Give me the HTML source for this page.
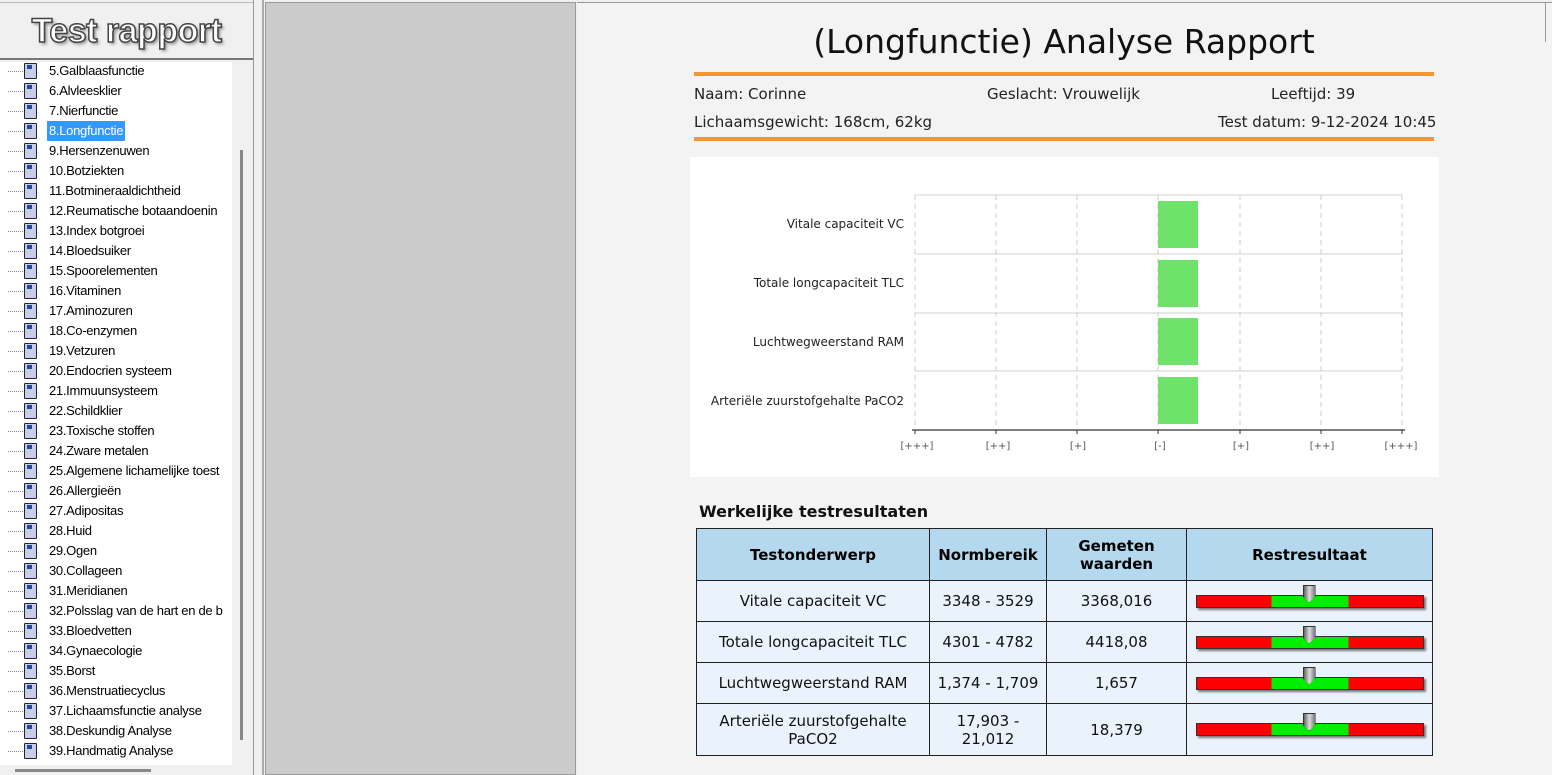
<!DOCTYPE html>
<html><head><meta charset="utf-8"><style>
*{margin:0;padding:0;box-sizing:border-box}
body{width:1552px;height:775px;overflow:hidden;background:#f0f0f0;font-family:"Liberation Sans",sans-serif;position:relative}
.abs{position:absolute}
.tree div{position:absolute;left:0;height:20px;width:232px;font-size:13px;line-height:20px;color:#000}
.tree .dot{position:absolute;left:8px;top:10px;width:15px;border-top:1px dotted #888}
.tree .ic{position:absolute;left:24px;top:2px;width:13px;height:16px;background:#c8cde8;border:1px solid #223;border-radius:1px}
.tree .ic:after{content:"";position:absolute;left:2px;top:1px;width:5px;height:4px;background:#1e4a9a}
.tree .t{position:absolute;left:47px;top:0;padding:0 2px;letter-spacing:-0.3px;white-space:nowrap}
.sans{font-family:"DejaVu Sans","Liberation Sans",sans-serif}
table{border-collapse:collapse;font-size:15px}
td{border:1px solid #222;text-align:center;background:#eaf3fb;color:#111}
th{border:1px solid #222;background:#b4d9ee;font-weight:bold;font-size:15px}
.bar{position:relative;width:228px;height:13px;margin:0 auto;background:linear-gradient(90deg,#f00 0 33%,#0e0 33% 67%,#f00 67%);border:1px solid #333;box-shadow:2px 2px 2px #777}
.ptr{position:absolute;left:106px;top:-11px;width:13px;height:18px;background:linear-gradient(90deg,#666,#ddd,#777);border:1px solid #333;clip-path:polygon(0 0,100% 0,100% 65%,50% 100%,0 65%)}
</style></head><body>
<!-- left panel -->
<div class="abs" style="left:0;top:0;width:254px;height:775px;background:#f0f0f0;border-right:1px solid #999"></div>
<div class="abs" style="left:0;top:2px;width:253px;height:58px;border-bottom:2px solid #777;border-top:1px solid #bbb"></div>
<div class="abs" style="left:0;top:12px;width:253px;text-align:center;font-size:34px;font-weight:bold;color:#fff;-webkit-text-stroke:1.5px #444;text-shadow:2px 2px 3px #888;letter-spacing:-0.5px">Test rapport</div>
<div class="abs" style="left:0;top:62px;width:232px;height:703px;background:#fff"></div>
<div class="abs" style="left:240px;top:150px;width:3px;height:590px;background:#888"></div>
<div class="abs" style="left:15px;top:769px;width:136px;height:3px;background:#888"></div>
<div class="tree" id="tree"></div>
<!-- gray area -->
<div class="abs" style="left:262px;top:0;width:2px;height:775px;background:#aaa"></div>
<div class="abs" style="left:265px;top:2px;width:311px;height:773px;background:#cbcbcb;border:1px solid #999"></div>
<!-- page -->
<div class="abs" style="left:577px;top:2px;width:975px;height:773px;background:#f3f3f3;border-top:1px solid #999"></div>
<div class="abs" style="left:1545px;top:2px;width:1px;height:40px;background:#999"></div>
<div class="abs sans" style="left:694px;top:22px;width:740px;text-align:center;font-size:33px;color:#111">(Longfunctie) Analyse Rapport</div>
<div class="abs" style="left:694px;top:72px;width:740px;height:4px;background:#f7962f"></div>
<div class="abs" style="left:694px;top:137px;width:740px;height:4px;background:#f7962f"></div>
<div class="abs sans" style="left:694px;top:85px;font-size:15px;color:#222">Naam: Corinne</div>
<div class="abs sans" style="left:987px;top:85px;font-size:15px;color:#222">Geslacht: Vrouwelijk</div>
<div class="abs sans" style="left:1271px;top:85px;font-size:15px;color:#222">Leeftijd: 39</div>
<div class="abs sans" style="left:694px;top:113px;font-size:15px;color:#222">Lichaamsgewicht: 168cm, 62kg</div>
<div class="abs sans" style="left:1218px;top:113px;font-size:15px;color:#222">Test datum: 9-12-2024 10:45</div>
<!-- chart -->
<div class="abs" style="left:690px;top:157px;width:749px;height:320px;background:#fff"></div>
<svg class="abs" style="left:0;top:0" width="1552" height="775">
<g stroke="#ccc" stroke-dasharray="5,4">
<line x1="996" y1="195" x2="996" y2="430"/><line x1="1077" y1="195" x2="1077" y2="430"/><line x1="1158" y1="195" x2="1158" y2="430"/><line x1="1240" y1="195" x2="1240" y2="430"/><line x1="1321" y1="195" x2="1321" y2="430"/><line x1="1402" y1="195" x2="1402" y2="430"/><line x1="915" y1="195" x2="915" y2="430"/>
</g>
<g stroke="#d0d0d0"><line x1="915" y1="195" x2="1402" y2="195"/><line x1="915" y1="254" x2="1402" y2="254"/><line x1="915" y1="313" x2="1402" y2="313"/><line x1="915" y1="371" x2="1402" y2="371"/></g>
<g fill="#6ee26a"><rect x="1158" y="201" width="40" height="47"/><rect x="1158" y="260" width="40" height="47"/><rect x="1158" y="318" width="40" height="47"/><rect x="1158" y="377" width="40" height="47"/></g>
<line x1="912" y1="430" x2="1405" y2="430" stroke="#333" stroke-width="1.3"/>
<g stroke="#333"><line x1="915" y1="430" x2="915" y2="434"/><line x1="996" y1="430" x2="996" y2="434"/><line x1="1077" y1="430" x2="1077" y2="434"/><line x1="1158" y1="430" x2="1158" y2="434"/><line x1="1240" y1="430" x2="1240" y2="434"/><line x1="1321" y1="430" x2="1321" y2="434"/><line x1="1402" y1="430" x2="1402" y2="434"/></g>
<g font-family="DejaVu Sans,sans-serif" font-size="12" fill="#222" text-anchor="end">
<text x="904" y="228">Vitale capaciteit VC</text><text x="904" y="287">Totale longcapaciteit TLC</text><text x="904" y="346">Luchtwegweerstand RAM</text><text x="904" y="405">Arteriële zuurstofgehalte PaCO2</text></g>
<g font-family="DejaVu Sans,sans-serif" font-size="10" fill="#555" text-anchor="middle">
<text x="917" y="449">[+++]</text><text x="998" y="449">[++]</text><text x="1078" y="449">[+]</text><text x="1160" y="449">[-]</text><text x="1241" y="449">[+]</text><text x="1322" y="449">[++]</text><text x="1401" y="449">[+++]</text></g>
</svg>
<div class="abs sans" style="left:699px;top:502px;font-size:16px;font-weight:bold;color:#111">Werkelijke testresultaten</div>
<table class="abs sans" style="left:696px;top:528px;width:737px">
<tr style="height:52px"><th style="width:233px">Testonderwerp</th><th style="width:117px">Normbereik</th><th style="width:140px">Gemeten<br>waarden</th><th>Restresultaat</th></tr>
<tr style="height:41px"><td>Vitale capaciteit VC</td><td>3348 - 3529</td><td>3368,016</td><td><div class="bar"><div class="ptr"></div></div></td></tr>
<tr style="height:41px"><td>Totale longcapaciteit TLC</td><td>4301 - 4782</td><td>4418,08</td><td><div class="bar"><div class="ptr"></div></div></td></tr>
<tr style="height:41px"><td>Luchtwegweerstand RAM</td><td>1,374 - 1,709</td><td>1,657</td><td><div class="bar"><div class="ptr"></div></div></td></tr>
<tr style="height:52px"><td>Arteriële zuurstofgehalte<br>PaCO2</td><td>17,903 -<br>21,012</td><td>18,379</td><td><div class="bar"><div class="ptr"></div></div></td></tr>
</table>
<script>
var n=["5.Galblaasfunctie","6.Alvleesklier","7.Nierfunctie","8.Longfunctie","9.Hersenzenuwen","10.Botziekten","11.Botmineraaldichtheid","12.Reumatische botaandoenin","13.Index botgroei","14.Bloedsuiker","15.Spoorelementen","16.Vitaminen","17.Aminozuren","18.Co-enzymen","19.Vetzuren","20.Endocrien systeem","21.Immuunsysteem","22.Schildklier","23.Toxische stoffen","24.Zware metalen","25.Algemene lichamelijke toest","26.Allergieën","27.Adipositas","28.Huid","29.Ogen","30.Collageen","31.Meridianen","32.Polsslag van de hart en de b","33.Bloedvetten","34.Gynaecologie","35.Borst","36.Menstruatiecyclus","37.Lichaamsfunctie analyse","38.Deskundig Analyse","39.Handmatig Analyse"];
var h="";n.forEach(function(s,i){var sel=i==3?' style="background:#3399ff;color:#fff"':'';h+='<div style="top:'+(61+i*20)+'px;overflow:hidden"><span class="dot"></span><span class="ic"></span><span class="t"'+sel+'>'+s+'</span></div>';});
document.getElementById("tree").innerHTML=h;
</script>
</body></html>
